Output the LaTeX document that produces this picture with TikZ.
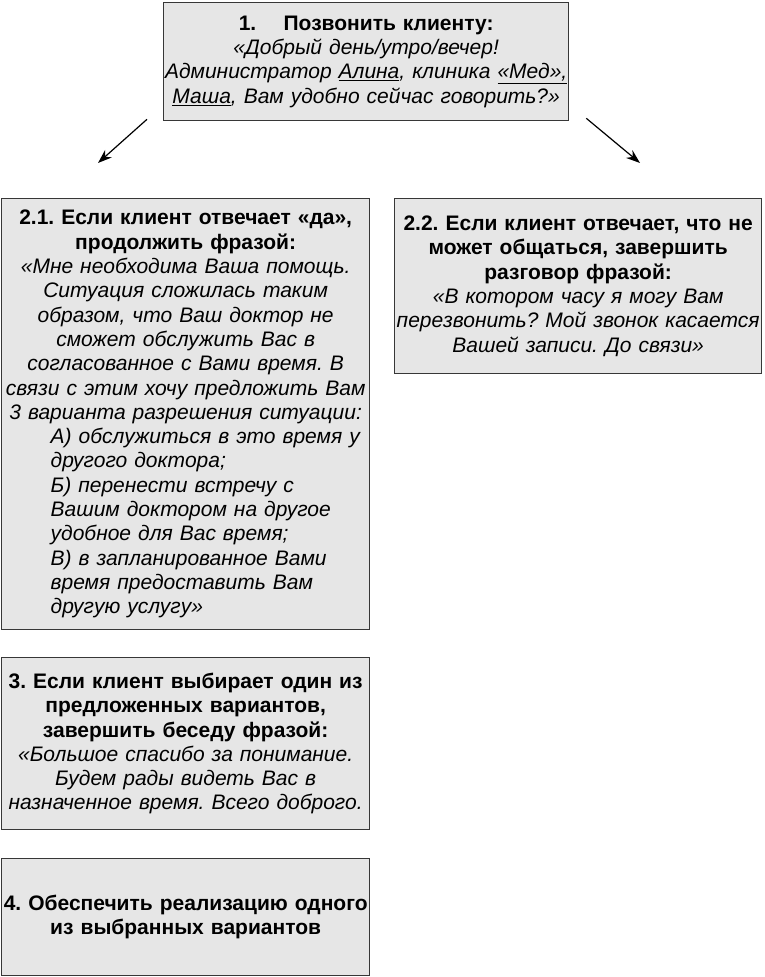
\documentclass[tikz,border=0pt]{standalone}
\usepackage{fontspec}
\setmainfont{Liberation Sans}
\usetikzlibrary{arrows.meta}
\definecolor{boxgray}{RGB}{230,230,230}
\definecolor{boxline}{RGB}{55,55,55}
\newcommand\boxfont{\fontsize{21}{24.3}\selectfont\frenchspacing}
\tikzset{
  box/.style={draw=boxline, line width=1.3pt, fill=boxgray, inner sep=0pt,
    anchor=north west, font=\boxfont},
  conn/.style={-{Stealth[length=14pt,width=10pt]}, line width=1.2pt, black}
}
\begin{document}
\begin{tikzpicture}[x=1pt,y=-1pt]
\useasboundingbox (0,0) rectangle (764,977);

\node[box, align=center, text width=405pt, minimum height=118pt] (b1) at (163,2)
 {\textbf{1.\hspace{1.3em}Позвонить клиенту:}\\
  \itshape «Добрый день/утро/вечер!\\
  \itshape Администратор \underline{Алина}, клиника \underline{«Мед»,}\\
  \itshape \underline{Маша}, Вам удобно сейчас говорить?»};

\node[box, text width=368pt, minimum height=431pt] (b21) at (1,198)
 {{\centering
  \textbf{2.1. Если клиент отвечает «да»,}\\
  \textbf{продолжить фразой:}\\
  \itshape «Мне необходима Ваша помощь.\\
  Ситуация сложилась таким\\
  образом, что Ваш доктор не\\
  сможет обслужить Вас в\\
  согласованное с Вами время. В\\
  связи с этим хочу предложить Вам\\
  3 варианта разрешения ситуации:\par}
  {\raggedright\leftskip=49pt\itshape
  А) обслужиться в это время у\\
  другого доктора;\\
  Б) перенести встречу с\\
  Вашим доктором на другое\\
  удобное для Вас время;\\
  В) в запланированное Вами\\
  время предоставить Вам\\
  другую услугу»\par}};

\node[box, align=center, text width=367pt, minimum height=175pt] (b22) at (394,198)
 {\textbf{2.2. Если клиент отвечает, что не}\\
  \textbf{может общаться, завершить}\\
  \textbf{разговор фразой:}\\
  \itshape «В котором часу я могу Вам\\
  \itshape перезвонить? Мой звонок касается\\
  \itshape Вашей записи. До связи»};

\node[box, align=center, text width=368pt, minimum height=172pt] (b3) at (1,657)
 {\textbf{3. Если клиент выбирает один из}\\
  \textbf{предложенных вариантов,}\\
  \textbf{завершить беседу фразой:}\\
  \itshape «Большое спасибо за понимание.\\
  \itshape Будем рады видеть Вас в\\
  \itshape назначенное время. Всего доброго.};

\node[box, align=center, text width=368pt, minimum height=117pt] (b4) at (1,858)
 {\textbf{4. Обеспечить реализацию одного}\\
  \textbf{из выбранных вариантов}};

\coordinate (s1) at ([shift={(-16,-2)}]b1.south west);
\coordinate (e1) at ([shift={(97,-35)}]b21.north west);
\coordinate (s2) at ([shift={(17,-3)}]b1.south east);
\coordinate (e2) at ([shift={(246,-35)}]b22.north west);
\draw[conn] (s1) -- (e1);
\draw[conn] (s2) -- (e2);
\end{tikzpicture}
\end{document}
